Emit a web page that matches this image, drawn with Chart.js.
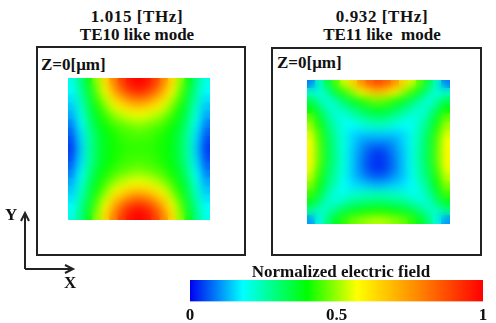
<!DOCTYPE html>
<html>
<head>
<meta charset="utf-8">
<script src="https://cdn.jsdelivr.net/npm/chart.js@4"></script>
<style>
  body { margin: 0; background: #fff; }
  #page { position: relative; width: 496px; height: 323px; overflow: hidden;
          font-family: "Liberation Serif", "Times New Roman", serif; font-weight: bold; color: #111; }
  .frame { position: absolute; border: 2px solid #222; box-sizing: border-box; }
  .title { position: absolute; text-align: center; font-size: 17px; line-height: 18px; white-space: pre; }
  .title .freq { letter-spacing: 0.6px; }
  .lab { position: absolute; font-size: 17px; line-height: 20px; white-space: pre; }
  canvas { position: absolute; }
</style>
</head>
<body>
<div id="page">
  <div class="title" style="left:37px; top:8px; width:200px;"><span class="freq">1.015 [THz]</span>
TE10 like mode</div>
  <div class="title" style="left:282px; top:8px; width:200px;"><span class="freq">0.932 [THz]</span>
TE11 like  mode</div>

  <div class="frame" style="left:36px; top:46px; width:210px; height:210px;"></div>
  <div class="frame" style="left:271px; top:47px; width:211px; height:209px;"></div>
  <div class="lab" style="left:41px; top:55px;">Z=0[μm]</div>
  <div class="lab" style="left:277px; top:53px;">Z=0[μm]</div>

  <canvas id="te10" width="142" height="142" style="left:68px; top:78px;"></canvas>
  <canvas id="te11" width="143" height="144" style="left:307px; top:80px;"></canvas>

  <svg width="496" height="323" style="position:absolute; left:0; top:0;">
    <g stroke="#222" stroke-width="2" fill="none">
      <path d="M25 269 L25 214 M21 221 L25 213 L29 221"/>
      <path d="M25 269 L72 269 M65 265 L73 269 L65 273"/>
    </g>
  </svg>
  <div class="lab" style="left:5px; top:205px;">Y</div>
  <div class="lab" style="left:64px; top:273px;">X</div>

  <div class="lab" id="barTitle" style="left:236px; top:262px; width:210px; text-align:center;"></div>
  <canvas id="bar" width="316" height="43" style="left:180px; top:280px;"></canvas>
</div>

<script>
// field magnitude (17 x 17 cells, row 0 = top)
const te10Rows = [
  [0.20, 0.28, 0.38, 0.50, 0.63, 0.78, 0.90, 0.97, 1.00, 0.97, 0.90, 0.78, 0.63, 0.50, 0.38, 0.28, 0.20],
  [0.18, 0.26, 0.36, 0.47, 0.58, 0.72, 0.84, 0.92, 0.95, 0.92, 0.84, 0.72, 0.58, 0.47, 0.36, 0.26, 0.18],
  [0.16, 0.24, 0.34, 0.44, 0.53, 0.63, 0.72, 0.79, 0.82, 0.79, 0.72, 0.63, 0.53, 0.44, 0.34, 0.24, 0.16],
  [0.14, 0.22, 0.32, 0.41, 0.48, 0.55, 0.61, 0.65, 0.67, 0.65, 0.61, 0.55, 0.48, 0.41, 0.32, 0.22, 0.14],
  [0.12, 0.20, 0.30, 0.38, 0.44, 0.49, 0.53, 0.55, 0.56, 0.55, 0.53, 0.49, 0.44, 0.38, 0.30, 0.20, 0.12],
  [0.09, 0.18, 0.28, 0.36, 0.41, 0.45, 0.47, 0.49, 0.50, 0.49, 0.47, 0.45, 0.41, 0.36, 0.28, 0.18, 0.09],
  [0.07, 0.16, 0.26, 0.34, 0.39, 0.42, 0.44, 0.45, 0.46, 0.45, 0.44, 0.42, 0.39, 0.34, 0.26, 0.16, 0.07],
  [0.05, 0.15, 0.25, 0.33, 0.38, 0.41, 0.43, 0.44, 0.44, 0.44, 0.43, 0.41, 0.38, 0.33, 0.25, 0.15, 0.05],
  [0.04, 0.14, 0.25, 0.33, 0.38, 0.41, 0.42, 0.43, 0.43, 0.43, 0.42, 0.41, 0.38, 0.33, 0.25, 0.14, 0.04],
  [0.05, 0.15, 0.25, 0.33, 0.38, 0.41, 0.43, 0.44, 0.44, 0.44, 0.43, 0.41, 0.38, 0.33, 0.25, 0.15, 0.05],
  [0.07, 0.16, 0.26, 0.34, 0.39, 0.42, 0.44, 0.45, 0.46, 0.45, 0.44, 0.42, 0.39, 0.34, 0.26, 0.16, 0.07],
  [0.09, 0.18, 0.28, 0.36, 0.41, 0.45, 0.47, 0.49, 0.50, 0.49, 0.47, 0.45, 0.41, 0.36, 0.28, 0.18, 0.09],
  [0.12, 0.20, 0.30, 0.38, 0.44, 0.49, 0.53, 0.55, 0.56, 0.55, 0.53, 0.49, 0.44, 0.38, 0.30, 0.20, 0.12],
  [0.14, 0.22, 0.32, 0.41, 0.48, 0.55, 0.61, 0.65, 0.67, 0.65, 0.61, 0.55, 0.48, 0.41, 0.32, 0.22, 0.14],
  [0.16, 0.24, 0.34, 0.44, 0.53, 0.63, 0.72, 0.79, 0.82, 0.79, 0.72, 0.63, 0.53, 0.44, 0.34, 0.24, 0.16],
  [0.18, 0.26, 0.36, 0.47, 0.58, 0.72, 0.84, 0.92, 0.95, 0.92, 0.84, 0.72, 0.58, 0.47, 0.36, 0.26, 0.18],
  [0.20, 0.28, 0.38, 0.50, 0.63, 0.78, 0.90, 0.97, 1.00, 0.97, 0.90, 0.78, 0.63, 0.50, 0.38, 0.28, 0.20]
];

const te11Rows = [
  [0.09, 0.23, 0.34, 0.45, 0.54, 0.64, 0.76, 0.84, 0.88, 0.84, 0.76, 0.64, 0.54, 0.45, 0.34, 0.23, 0.09],
  [0.23, 0.19, 0.27, 0.36, 0.43, 0.50, 0.58, 0.64, 0.68, 0.64, 0.58, 0.50, 0.43, 0.36, 0.27, 0.19, 0.23],
  [0.33, 0.26, 0.20, 0.26, 0.32, 0.37, 0.42, 0.46, 0.48, 0.46, 0.42, 0.37, 0.32, 0.26, 0.20, 0.26, 0.33],
  [0.40, 0.32, 0.24, 0.21, 0.25, 0.29, 0.33, 0.36, 0.38, 0.36, 0.33, 0.29, 0.25, 0.21, 0.24, 0.32, 0.40],
  [0.47, 0.37, 0.28, 0.22, 0.20, 0.23, 0.26, 0.29, 0.30, 0.29, 0.26, 0.23, 0.20, 0.22, 0.28, 0.37, 0.47],
  [0.51, 0.41, 0.30, 0.24, 0.19, 0.18, 0.20, 0.22, 0.23, 0.22, 0.20, 0.18, 0.19, 0.24, 0.30, 0.41, 0.51],
  [0.55, 0.44, 0.33, 0.25, 0.20, 0.15, 0.14, 0.14, 0.14, 0.14, 0.14, 0.15, 0.20, 0.25, 0.33, 0.44, 0.55],
  [0.57, 0.45, 0.34, 0.26, 0.20, 0.15, 0.11, 0.09, 0.09, 0.09, 0.11, 0.15, 0.20, 0.26, 0.34, 0.45, 0.57],
  [0.58, 0.46, 0.34, 0.27, 0.20, 0.14, 0.10, 0.06, 0.04, 0.06, 0.10, 0.14, 0.20, 0.27, 0.34, 0.46, 0.58],
  [0.58, 0.46, 0.34, 0.27, 0.20, 0.14, 0.09, 0.05, 0.03, 0.05, 0.09, 0.14, 0.20, 0.27, 0.34, 0.46, 0.58],
  [0.56, 0.44, 0.33, 0.26, 0.20, 0.14, 0.09, 0.05, 0.03, 0.05, 0.09, 0.14, 0.20, 0.26, 0.33, 0.44, 0.56],
  [0.53, 0.42, 0.31, 0.25, 0.19, 0.14, 0.11, 0.08, 0.07, 0.08, 0.11, 0.14, 0.19, 0.25, 0.31, 0.42, 0.53],
  [0.49, 0.39, 0.29, 0.23, 0.18, 0.16, 0.15, 0.14, 0.13, 0.14, 0.15, 0.16, 0.18, 0.23, 0.29, 0.39, 0.49],
  [0.44, 0.35, 0.26, 0.20, 0.20, 0.22, 0.23, 0.24, 0.24, 0.24, 0.23, 0.22, 0.20, 0.20, 0.26, 0.35, 0.44],
  [0.37, 0.30, 0.22, 0.22, 0.25, 0.28, 0.29, 0.30, 0.31, 0.30, 0.29, 0.28, 0.25, 0.22, 0.22, 0.30, 0.37],
  [0.28, 0.22, 0.24, 0.30, 0.34, 0.37, 0.39, 0.41, 0.41, 0.41, 0.39, 0.37, 0.34, 0.30, 0.24, 0.22, 0.28],
  [0.11, 0.20, 0.30, 0.37, 0.43, 0.47, 0.49, 0.51, 0.52, 0.51, 0.49, 0.47, 0.43, 0.37, 0.30, 0.20, 0.11]
];

const barTicks = [0, 0.5, 1];
const barTitle = 'Normalized electric field';

// jet-like colour scale of the colour bar
const colorStops = [0, 0.18, 0.4, 0.57, 0.77, 1];
const colorRGB = [[0, 0, 240], [0, 255, 255], [0, 255, 0], [255, 255, 0], [255, 140, 0], [255, 0, 0]];

const serif = { family: '"Liberation Serif", "Times New Roman", serif', size: 17, weight: 'bold' };

function jet(v) {
  v = Math.max(0, Math.min(1, v));
  let i = 0;
  while (i < colorStops.length - 2 && v > colorStops[i + 1]) i++;
  const t = (v - colorStops[i]) / (colorStops[i + 1] - colorStops[i]);
  const a = colorRGB[i], b = colorRGB[i + 1];
  const c = a.map((x, k) => Math.round(x + (b[k] - x) * t));
  return `rgb(${c[0]},${c[1]},${c[2]})`;
}

function cellRadius(chart, cols) {
  const a = chart.chartArea;
  if (!a) return 5;
  const side = (a.right - a.left) / cols + 1;
  return side / Math.SQRT2;
}

// soften the cell edges so the map reads like the smooth field plot
const smoothPlugin = {
  id: 'smooth',
  afterDatasetsDraw(chart) {
    const { ctx, chartArea: a, canvas } = chart;
    ctx.save();
    ctx.beginPath();
    ctx.rect(a.left, a.top, a.right - a.left, a.bottom - a.top);
    ctx.clip();
    ctx.filter = 'blur(4px)';
    ctx.drawImage(canvas, 0, 0, canvas.width, canvas.height, 0, 0, chart.width, chart.height);
    ctx.restore();
  }
};

function makeMap(id, rows) {
  const cols = rows[0].length;
  const pts = [];
  rows.forEach((row, r) => row.forEach((v, c) => pts.push({ x: c, y: r, v: v })));
  return new Chart(document.getElementById(id), {
    type: 'scatter',
    data: {
      datasets: [{
        data: pts,
        pointStyle: 'rect',
        borderWidth: 0,
        backgroundColor: ctx => jet(ctx.raw ? ctx.raw.v : 0),
        pointRadius: ctx => cellRadius(ctx.chart, cols),
        pointHoverRadius: ctx => cellRadius(ctx.chart, cols)
      }]
    },
    options: {
      responsive: false,
      animation: false,
      events: [],
      layout: { padding: 0, autoPadding: false },
      plugins: { legend: { display: false }, tooltip: { enabled: false } },
      scales: {
        x: { type: 'linear', min: -0.5, max: cols - 0.5, display: false },
        y: { type: 'linear', min: -0.5, max: rows.length - 0.5, reverse: true, display: false }
      }
    },
    plugins: [smoothPlugin]
  });
}

makeMap('te10', te10Rows);
makeMap('te11', te11Rows);

document.getElementById('barTitle').textContent = barTitle;

function barGradient(chart) {
  const x = chart.scales.x;
  if (!chart.chartArea || !x) return jet(0.5);
  const g = chart.ctx.createLinearGradient(x.getPixelForValue(0), 0, x.getPixelForValue(1), 0);
  colorStops.forEach(s => g.addColorStop(s, jet(s)));
  return g;
}

new Chart(document.getElementById('bar'), {
  type: 'bar',
  data: {
    labels: ['field'],
    datasets: [{
      data: [[0, 1]],
      backgroundColor: ctx => barGradient(ctx.chart),
      borderWidth: 0,
      barPercentage: 1,
      categoryPercentage: 1
    }]
  },
  options: {
    indexAxis: 'y',
    responsive: false,
    animation: false,
    events: [],
    layout: { padding: { left: 10, right: 13, top: 0, bottom: 0 }, autoPadding: false },
    plugins: { legend: { display: false }, tooltip: { enabled: false } },
    scales: {
      x: {
        type: 'linear', min: 0, max: 1,
        grid: { display: false, drawTicks: false },
        border: { display: false },
        afterBuildTicks: s => { s.ticks = barTicks.map(v => ({ value: v })); },
        ticks: { color: '#111', padding: 4, maxRotation: 0, font: serif, callback: v => String(v) }
      },
      y: { display: false }
    }
  }
});
</script>
</body>
</html>
